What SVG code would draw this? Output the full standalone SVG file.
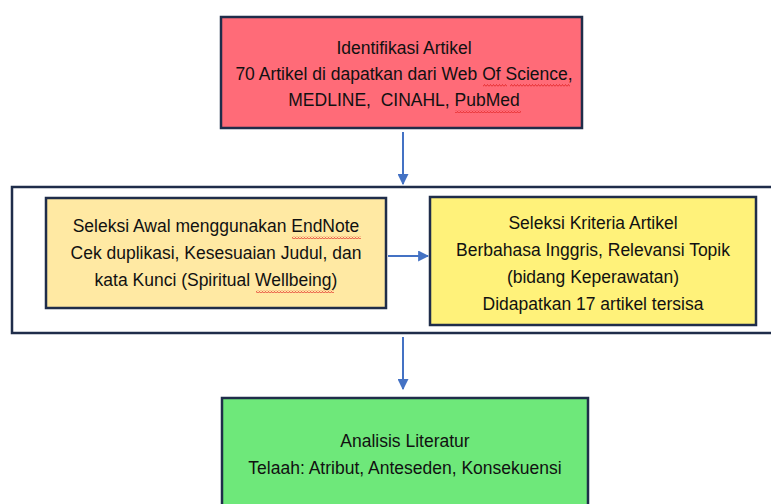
<svg xmlns="http://www.w3.org/2000/svg" width="771" height="504" viewBox="0 0 771 504">
<style>
.box{stroke:#1F2D4A;stroke-width:2.5}
.t{font-family:"Liberation Sans",Arial,sans-serif;font-size:17.5px;fill:#111;text-anchor:middle}
.c{stroke:#4472C4;stroke-width:2;fill:none}
.sq{fill:url(#wave)}
</style>
<defs>
<marker id="ah" viewBox="0 0 10 10" refX="9" refY="5" markerWidth="5.5" markerHeight="5.5" orient="auto" markerUnits="strokeWidth">
<path d="M0,0 L10,5 L0,10 z" fill="#4472C4"/>
</marker>
<pattern id="wave" width="3" height="3" patternUnits="userSpaceOnUse">
<path d="M0,2.5 L1.5,0.5 L3,2.5" stroke="#E02020" stroke-width="0.8" fill="none"/>
</pattern>
</defs>
<rect width="771" height="504" fill="#fff"/>
<g id="frame">
<rect x="12" y="187" width="770" height="146" fill="none" class="box"/>
</g>
<g id="connectors">
<line x1="403" y1="132" x2="403" y2="184" class="c" marker-end="url(#ah)"/>
<line x1="388" y1="256" x2="428" y2="256" class="c" marker-end="url(#ah)"/>
<line x1="403" y1="337" x2="403" y2="389" class="c" marker-end="url(#ah)"/>
</g>
<g id="identifikasi">
<rect x="221" y="17" width="361" height="111" fill="#FF6B78" class="box"/>
<text class="t" x="404" y="54">Identifikasi Artikel</text>
<text class="t" x="404" y="80">70 Artikel di dapatkan dari Web Of Science,</text>
<text class="t" x="404" y="106" xml:space="preserve">MEDLINE,  CINAHL, PubMed</text>
<rect class="sq" x="483" y="84" width="24" height="3"/>
<rect class="sq" x="510" y="84" width="60" height="3"/>
<rect class="sq" x="455" y="110" width="66" height="3"/>
</g>
<g id="seleksi-awal">
<rect x="46" y="198" width="340" height="110" fill="#FFE9A3" class="box"/>
<text class="t" x="216" y="232">Seleksi Awal menggunakan EndNote</text>
<text class="t" x="216" y="259">Cek duplikasi, Kesesuaian Judul, dan</text>
<text class="t" x="216" y="286">kata Kunci (Spiritual Wellbeing)</text>
<rect class="sq" x="292" y="236" width="69" height="3"/>
<rect class="sq" x="256" y="290" width="78" height="3"/>
</g>
<g id="seleksi-kriteria">
<rect x="430" y="197" width="326" height="128" fill="#FFF27A" class="box"/>
<text class="t" x="593" y="229">Seleksi Kriteria Artikel</text>
<text class="t" x="593" y="256">Berbahasa Inggris, Relevansi Topik</text>
<text class="t" x="593" y="283">(bidang Keperawatan)</text>
<text class="t" x="593" y="310">Didapatkan 17 artikel tersisa</text>
</g>
<g id="analisis">
<rect x="222" y="398" width="366" height="120" fill="#6EE87A" class="box"/>
<text class="t" x="405" y="447">Analisis Literatur</text>
<text class="t" x="405" y="474">Telaah: Atribut, Anteseden, Konsekuensi</text>
</g>
</svg>
